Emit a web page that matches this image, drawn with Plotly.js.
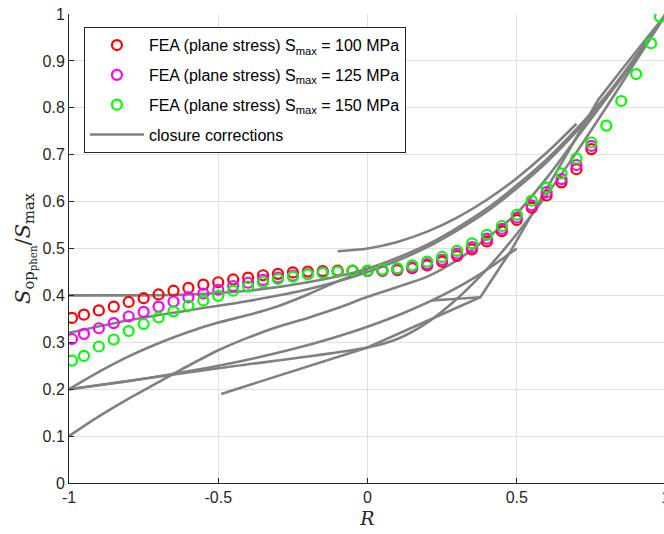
<!DOCTYPE html>
<html>
<head>
<meta charset="utf-8">
<script src="https://cdn.plot.ly/plotly-3.0.1.min.js"></script>
<style>
  html, body { margin: 0; padding: 0; overflow: hidden; background: #fff; }
  #chart { width: 672px; height: 534px; }
</style>
</head>
<body>
<div id="chart"></div>
<script>
// Stress ratios of the FEA runs
const rFea = [-0.99, -0.95, -0.9, -0.85, -0.8, -0.75, -0.7, -0.65, -0.6, -0.55, -0.5, -0.45, -0.4, -0.35, -0.3, -0.25, -0.2, -0.15, -0.1, -0.05, 0, 0.05, 0.1, 0.15, 0.2, 0.25, 0.3, 0.35, 0.4, 0.45, 0.5, 0.55, 0.6, 0.65, 0.7, 0.75];
const rFea150 = [-0.99, -0.95, -0.9, -0.85, -0.8, -0.75, -0.7, -0.65, -0.6, -0.55, -0.5, -0.45, -0.4, -0.35, -0.3, -0.25, -0.2, -0.15, -0.1, -0.05, 0, 0.05, 0.1, 0.15, 0.2, 0.25, 0.3, 0.35, 0.4, 0.45, 0.5, 0.55, 0.6, 0.65, 0.7, 0.75, 0.8, 0.85, 0.9, 0.95, 0.98];

// Normalised opening stress from FEA (plane stress)
const fea100 = [0.352, 0.359, 0.368, 0.376, 0.386, 0.394, 0.402, 0.41, 0.416, 0.423, 0.428, 0.434, 0.438, 0.443, 0.446, 0.449, 0.451, 0.452, 0.453, 0.453, 0.452, 0.452, 0.454, 0.458, 0.464, 0.472, 0.484, 0.498, 0.515, 0.537, 0.561, 0.587, 0.613, 0.641, 0.669, 0.712];
const fea125 = [0.307, 0.318, 0.33, 0.341, 0.355, 0.365, 0.376, 0.387, 0.396, 0.404, 0.412, 0.42, 0.427, 0.433, 0.438, 0.442, 0.446, 0.449, 0.451, 0.452, 0.452, 0.453, 0.456, 0.46, 0.467, 0.476, 0.489, 0.503, 0.521, 0.542, 0.566, 0.592, 0.62, 0.648, 0.678, 0.719];
const fea150 = [0.261, 0.271, 0.291, 0.306, 0.324, 0.339, 0.353, 0.366, 0.378, 0.389, 0.399, 0.41, 0.419, 0.428, 0.435, 0.44, 0.445, 0.448, 0.451, 0.453, 0.453, 0.455, 0.458, 0.464, 0.472, 0.482, 0.495, 0.511, 0.529, 0.548, 0.572, 0.602, 0.63, 0.66, 0.692, 0.726, 0.762, 0.8145, 0.872, 0.9375, 0.994];

// Closure correction curves (R, Sop/Smax)
const elberR = [-0.1, 0, 0.1, 0.2, 0.3, 0.4, 0.5, 0.6, 0.7];
const elberY = [0.494, 0.5, 0.514, 0.536, 0.566, 0.604, 0.65, 0.704, 0.766];
const schijveR = [-1, -0.8, -0.6, -0.4, -0.2, 0, 0.2, 0.4, 0.6, 0.8, 1];
const schijveY = [0.32, 0.347, 0.368, 0.388, 0.413, 0.45, 0.503, 0.579, 0.684, 0.822, 1];
const plateauR = [-1, -0.8, -0.6, -0.4, -0.2, 0, 0.2, 0.4, 0.6, 0.8, 1];
const plateauY = [0.4, 0.4, 0.402, 0.41, 0.428, 0.457, 0.508, 0.585, 0.69, 0.826, 1];
const kuriharaR = [-1, -0.875, -0.75, -0.625, -0.5, -0.375, -0.25, -0.125, 0, 0.125, 0.25, 0.375, 0.5];
const kuriharaY = [0.2, 0.2105, 0.2222, 0.2353, 0.25, 0.2667, 0.2857, 0.3077, 0.3333, 0.3636, 0.4, 0.4444, 0.5];
const newmanR = [-1, -0.5, 0, 0.1, 0.2, 0.3, 0.4, 0.5, 0.6, 0.7, 0.8, 0.9, 1];
const newmanY = [0.2, 0.2445, 0.289, 0.307, 0.342, 0.393, 0.456, 0.531, 0.614, 0.705, 0.801, 0.9, 1];
const kinkR = [-0.49, 0, 0.378, 0.48, 0.6, 0.7, 0.773, 0.85, 0.93, 1];
const kinkY = [0.19, 0.289, 0.396, 0.495, 0.627, 0.737, 0.817, 0.88, 0.945, 1];
const shelfR = [0.215, 0.3, 0.378];
const shelfY = [0.389, 0.393, 0.396];
const lowStartR = [-1, -0.9, -0.8, -0.7, -0.6, -0.5, -0.4, -0.3, -0.2, -0.1, 0, 0.1, 0.2, 0.3, 0.4, 0.5, 0.6, 0.7, 0.8, 0.9, 1];
const lowStartY = [0.1, 0.142, 0.18, 0.215, 0.25, 0.283, 0.31, 0.333, 0.352, 0.373, 0.397, 0.418, 0.44, 0.475, 0.522, 0.575, 0.65, 0.735, 0.82, 0.905, 1];
const steepR = [-1, -0.9, -0.8, -0.7, -0.6, -0.5, -0.4, -0.3, -0.2, -0.1, 0];
const steepY = [0.2, 0.237, 0.27, 0.298, 0.322, 0.342, 0.358, 0.377, 0.402, 0.43, 0.455];

// Axis ticks
const xTicks = [-1, -0.5, 0, 0.5, 1];
const xTickText = ['-1', '-0.5', '0', '0.5', '1'];
const yTicks = [0, 0.1, 0.2, 0.3, 0.4, 0.5, 0.6, 0.7, 0.8, 0.9, 1];
const yTickText = ['0', '0.1', '0.2', '0.3', '0.4', '0.5', '0.6', '0.7', '0.8', '0.9', '1'];

const gray = '#808080';
const curves = [
  [elberR, elberY, 'spline'],
  [schijveR, schijveY, 'spline'],
  [plateauR, plateauY, 'spline'],
  [kuriharaR, kuriharaY, 'spline'],
  [newmanR, newmanY, 'spline'],
  [kinkR, kinkY, 'linear'],
  [shelfR, shelfY, 'linear'],
  [lowStartR, lowStartY, 'spline'],
  [steepR, steepY, 'spline']
];

const traces = curves.map(function (c, i) {
  return {
    x: c[0], y: c[1], type: 'scatter', mode: 'lines',
    line: { color: gray, width: 2.6, shape: c[2], smoothing: 0.8 },
    name: 'closure corrections',
    showlegend: i === 0,
    legendgroup: 'g4',
    legendrank: 4,
    hoverinfo: 'skip'
  };
});

function feaTrace(x, y, color, label, rank) {
  return {
    x: x, y: y, type: 'scatter', mode: 'markers',
    marker: { symbol: 'circle-open', size: 10, color: color, line: { color: color, width: 2.2 } },
    name: label, legendgroup: 'g' + rank, legendrank: rank
  };
}

traces.push(feaTrace(rFea, fea100, '#ff0000', 'FEA (plane stress) S<sub>max</sub> = 100 MPa', 1));
traces.push(feaTrace(rFea, fea125, '#ff00ff', 'FEA (plane stress) S<sub>max</sub> = 125 MPa', 2));
traces.push(feaTrace(rFea150, fea150, '#00ff00', 'FEA (plane stress) S<sub>max</sub> = 150 MPa', 3));

const axisCommon = {
  showline: true, linecolor: '#262626', linewidth: 1,
  ticks: 'inside', ticklen: 5, tickcolor: '#262626', tickwidth: 1,
  showgrid: true, gridcolor: '#e0e0e0', gridwidth: 1,
  zeroline: false, mirror: false,
  tickfont: { family: 'Liberation Sans, Arial, sans-serif', size: 16, color: '#262626' }
};

const layout = {
  width: 672, height: 534,
  margin: { l: 69, r: 6, t: 14, b: 51 },
  paper_bgcolor: '#ffffff', plot_bgcolor: '#ffffff',
  showlegend: true,
  xaxis: Object.assign({}, axisCommon, {
    range: [-1, 1], tickvals: xTicks, ticktext: xTickText,
    title: { text: '<i>R</i>', font: { family: 'DejaVu Serif, serif', size: 19, color: '#262626' }, standoff: 6 }
  }),
  yaxis: Object.assign({}, axisCommon, {
    range: [0, 1], tickvals: yTicks, ticktext: yTickText,
    title: { text: '<i>S</i><sub>op<sub>phen</sub></sub>/<i>S</i><sub>max</sub>', font: { family: 'DejaVu Serif, serif', size: 21, color: '#262626' }, standoff: 6 }
  }),
  legend: {
    x: 0.025, y: 0.972, xanchor: 'left', yanchor: 'top',
    bgcolor: '#ffffff', bordercolor: '#262626', borderwidth: 1,
    font: { family: 'Liberation Sans, Arial, sans-serif', size: 16, color: '#000000' },
    itemwidth: 54, tracegroupgap: 6, traceorder: 'grouped'
  }
};

Plotly.newPlot('chart', traces, layout, { displayModeBar: false, staticPlot: true });
</script>
</body>
</html>
